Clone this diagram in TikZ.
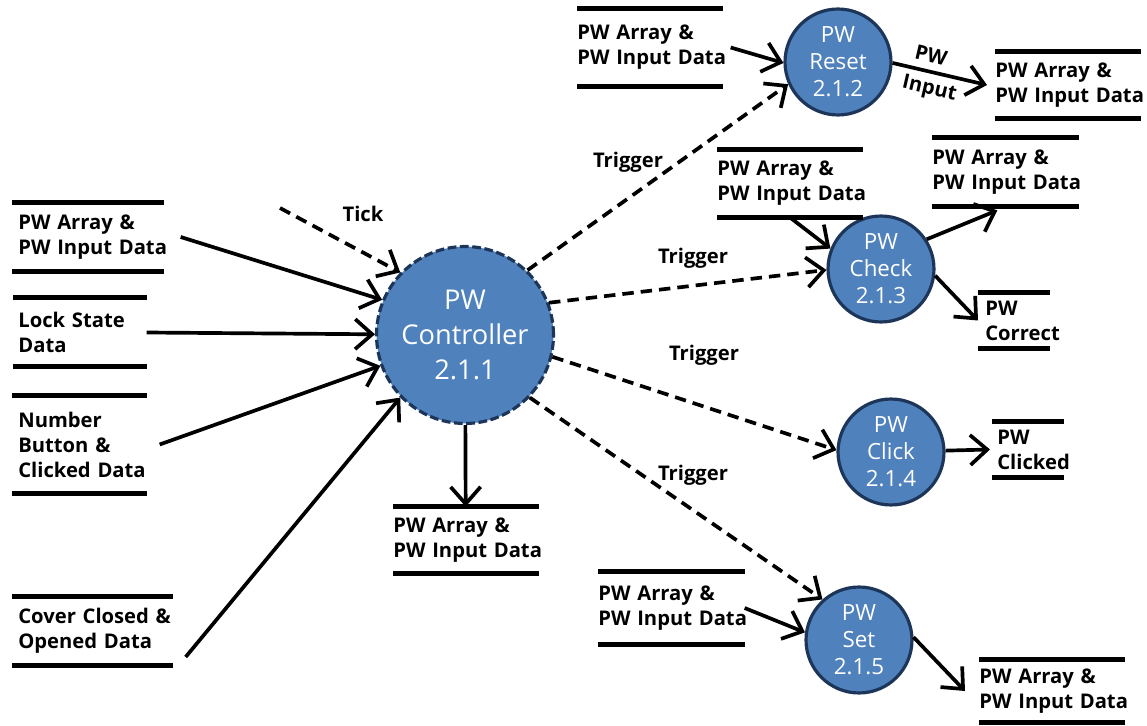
\documentclass[tikz,border=0pt]{standalone}
\usepackage{fontspec}
\setmainfont{Open Sans}
\usetikzlibrary{arrows.meta}
\definecolor{procfill}{HTML}{4F81BD}
\definecolor{procline}{HTML}{1D3558}
\newcommand{\pwdata}{\mbox{PW Array \&}\\\mbox{PW Input Data}}

\begin{document}
\begin{tikzpicture}[x=0.02cm,y=-0.02cm]
\tikzstyle{proc}=[circle,draw=procline,line width=1.8pt,fill=procfill,text=white,align=center,inner sep=0pt,minimum size=2.12cm,font=\fontsize{12.7}{15.3}\selectfont]
\tikzstyle{mainproc}=[proc,minimum size=3.54cm,dash pattern=on 5pt off 2pt,font=\fontsize{15.5}{20}\selectfont]
\tikzstyle{storeline}=[draw,line width=2.5pt]
\tikzset{store/.style 2 args={align=left,anchor=west,inner sep=0pt,text width=#1,minimum height=1.36cm,font=\bfseries\fontsize{11.5}{14.2}\selectfont,
	append after command={([xshift=-#2]\tikzlastnode.north west) edge[storeline] (\tikzlastnode.north east)
		([xshift=-#2]\tikzlastnode.south west) edge[storeline] (\tikzlastnode.south east)}}}
\tikzstyle{lbl}=[font=\bfseries\fontsize{11.5}{14.2}\selectfont]
\tikzstyle{flow}=[line width=2.1pt,-{Straight Barb[length=0.34cm,width=0.6cm]}]
\tikzstyle{trig}=[flow,dash pattern=on 6.5pt off 4pt]

\useasboundingbox (0,0) rectangle (1147,726);

% processes
\node[mainproc] (ctrl) at (465,335) {PW\\Controller\\2.1.1};
\node[proc] (reset) at (838,62) {PW\\Reset\\2.1.2};
\node[proc] (check) at (881,269) {PW\\Check\\2.1.3};
\node[proc] (click) at (891,452) {PW\\Click\\2.1.4};
\node[proc] (pwset) at (859,640) {PW\\Set\\2.1.5};

% data stores
\node[store={2.9cm}{0.12cm}] (arr) at (18,237) {\pwdata};
\node[store={2.56cm}{0.1cm}] (lock) at (18,332) {Lock~State\\Data};
\node[store={2.56cm}{0.12cm},minimum height=1.94cm] (num) at (18,444.5) {Number\\Button~\&\\\mbox{Clicked Data}};
\node[store={3.08cm}{0.12cm}] (cover) at (18,631) {\mbox{Cover Closed \&}\\\mbox{Opened Data}};
\node[store={2.9cm}{0cm},minimum height=1.32cm] (ctrlout) at (393,540) {\pwdata};
\node[store={2.9cm}{0cm},minimum height=1.54cm] (resetin) at (577,47.5) {\pwdata};
\node[store={2.9cm}{0cm},minimum height=1.32cm] (resetout) at (995,85) {\pwdata};
\node[store={2.9cm}{0cm},minimum height=1.34cm] (checkin) at (717,183.5) {\pwdata};
\node[store={2.92cm}{0cm}] (checkout) at (932,172) {\pwdata};
\node[store={1.28cm}{0.14cm},minimum height=1.1cm] (correct) at (985,320.5) {PW\\Correct};
\node[store={1.32cm}{0.1cm},minimum height=1.1cm] (clicked) at (997,449.5) {PW\\Clicked};
\node[store={2.92cm}{0cm},minimum height=1.44cm] (setin) at (598,608) {\pwdata};
\node[store={2.9cm}{0cm},minimum height=1.24cm] (setout) at (979,691) {\pwdata};

% inputs of the controller
\coordinate (tick) at (280,208);
\draw[trig] (tick) -- (ctrl.136);
\node[lbl] (ticklbl) at (363,214) {Tick};
\draw[flow] ([xshift=0.34cm]arr.east) -- (ctrl.157);
\draw[flow] (lock) -- (ctrl);
\draw[flow] ([xshift=0.26cm]num.east) -- (ctrl.200);
\draw[flow] ([xshift=0.26cm,yshift=-0.52cm]cover.east) -- (ctrl.224);
\draw[flow] (ctrl) -- (ctrlout);

% triggers
\draw[trig] (ctrl.46) -- (reset.204);
\draw[trig] (ctrl.21) -- (check.181);
\draw[trig] (ctrl.346) -- (click.178);
\draw[trig] (ctrl.316) -- (pwset.132);
\node[lbl] (trig1) at (628,162) {Trigger};
\node[lbl] (trig2) at (693,258) {Trigger};
\node[lbl] (trig3) at (704,355) {Trigger};
\node[lbl] (trig4) at (693,475) {Trigger};

% sub processes
\draw[flow] ([xshift=0.16cm]resetin.east) -- (reset.181);
\draw[flow] (reset.359) -- ([xshift=-0.16cm]resetout.west)
	node[lbl,pos=0.37,sloped,above=0.02cm] {PW}
	node[lbl,pos=0.43,sloped,below=0cm] {Input};
\draw[flow] (checkin.south) -- (check.158);
\draw[flow] (check.33) -- ([xshift=-0.16cm,yshift=-0.08cm]checkout.south);
\draw[flow] (check.353) -- ([xshift=-0.14cm]correct.west);
\draw[flow] (click) -- ([xshift=-0.14cm]clicked.west);
\draw[flow] (setin.east) -- (pwset.172);
\draw[flow] (pwset.3) -- ([xshift=-0.28cm]setout.west);
\end{tikzpicture}
\end{document}
